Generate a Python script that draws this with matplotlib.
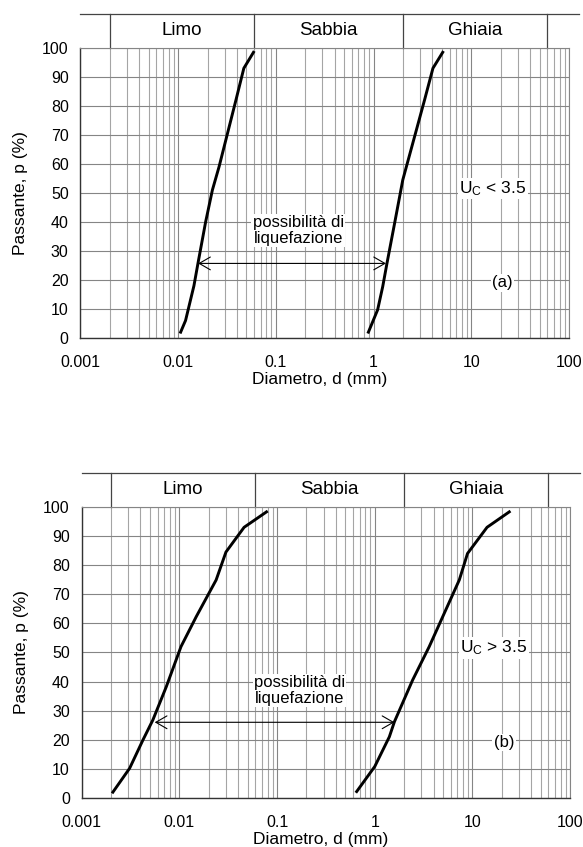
import numpy as np
import matplotlib
matplotlib.use("Agg")
from matplotlib import pyplot as plt
from matplotlib import transforms
from matplotlib.ticker import LogLocator, NullFormatter

plt.rcParams['font.family'] = ['Liberation Sans', 'DejaVu Sans']
plt.rcParams['mathtext.fontset'] = 'custom'
plt.rcParams['mathtext.rm'] = 'Liberation Sans'
plt.rcParams['mathtext.it'] = 'Liberation Sans:italic'
plt.rcParams['mathtext.default'] = 'regular'

# dati
x_ticks = [0.001, 0.01, 0.1, 1, 10, 100]
x_ticklabels = ['0.001', '0.01', '0.1', '1', '10', '100']
y_ticks = [0, 10, 20, 30, 40, 50, 60, 70, 80, 90, 100]

zone_names = ['Limo', 'Sabbia', 'Ghiaia']
zone_limits = [0.002, 0.06, 2, 60]

# (a) Uc < 3.5
d_a_fine = [0.0106, 0.0119, 0.0145, 0.016, 0.0191, 0.0224, 0.0262, 0.039, 0.047, 0.059]
p_a_fine = [2, 6, 18, 26, 40, 51, 59, 82, 93, 98.5]
d_a_grosso = [0.885, 1.10, 1.24, 1.37, 1.64, 1.99, 3.32, 4.05, 5.1]
p_a_grosso = [2, 9.7, 17.7, 25.7, 39.5, 54.5, 82, 93, 98.5]
freccia_a = [0.016, 1.34, 25.7]

# (b) Uc > 3.5
d_b_fine = [0.00209, 0.0031, 0.00424, 0.00536, 0.00735, 0.0104, 0.0149, 0.0238, 0.030, 0.046, 0.078]
p_b_fine = [2, 10.2, 19.9, 26.8, 38.2, 52, 62.3, 74.9, 84.5, 93, 98.3]
d_b_grosso = [0.653, 1.0, 1.41, 1.59, 2.44, 3.61, 7.33, 8.9, 14.1, 23.8]
p_b_grosso = [2.2, 10.8, 21, 26.2, 40.5, 52, 74.9, 84, 93, 98.3]
freccia_b = [0.0056, 1.59, 26]

uc_testi = ['U$_{C}$ < 3.5', 'U$_{C}$ > 3.5']
lettere = ['(a)', '(b)']

fig = plt.figure(figsize=(5.83, 8.47), dpi=100)
ax1 = fig.add_axes([0.138, 0.601, 0.838, 0.3424])
ax2 = fig.add_axes([0.140, 0.0579, 0.838, 0.3436])

pannelli = [
    (ax1, d_a_fine, p_a_fine, d_a_grosso, p_a_grosso, freccia_a, uc_testi[0], lettere[0]),
    (ax2, d_b_fine, p_b_fine, d_b_grosso, p_b_grosso, freccia_b, uc_testi[1], lettere[1]),
]

h = 34 / 290.0

for ax, d1, p1, d2, p2, fr, uc, lett in pannelli:
    ax.set_xscale('log')
    ax.set_xlim(0.001, 100)
    ax.set_ylim(0, 100)
    ax.set_xticks(x_ticks)
    ax.set_xticklabels(x_ticklabels)
    ax.xaxis.set_minor_locator(LogLocator(base=10, subs=np.arange(2, 10), numticks=20))
    ax.xaxis.set_minor_formatter(NullFormatter())
    ax.set_yticks(y_ticks)
    ax.grid(True, which='major', axis='both', color='#858585', lw=0.8, zorder=0)
    ax.grid(True, which='minor', axis='x', color='#a5a5a5', lw=0.8, zorder=0)
    ax.set_axisbelow(True)
    ax.tick_params(axis='both', which='both', length=0, labelsize=11.5)
    ax.tick_params(axis='x', pad=12)
    ax.tick_params(axis='y', pad=8.5)
    for s in ['top', 'right']:
        ax.spines[s].set_color('#858585')
        ax.spines[s].set_linewidth(0.8)
    for s in ['left', 'bottom']:
        ax.spines[s].set_color('#333333')
        ax.spines[s].set_linewidth(1.0)

    ax.set_xlabel('Diametro, d (mm)', fontsize=12.5)
    ax.xaxis.set_label_coords(0.49, -0.117)
    ax.set_ylabel('Passante, p (%)', fontsize=12.5)
    ax.yaxis.set_label_coords(-0.107, 0.5)

    # intestazione con le classi granulometriche
    tr = transforms.blended_transform_factory(ax.transData, ax.transAxes)
    ax.plot([0.001, 126], [1 + h, 1 + h], transform=tr, clip_on=False, color='#444444', lw=0.9)
    for xl in zone_limits:
        ax.plot([xl, xl], [1, 1 + h], transform=tr, clip_on=False, color='#444444', lw=0.9)
    for i in range(len(zone_names)):
        xc = np.sqrt(zone_limits[i] * zone_limits[i + 1])
        ax.text(xc, 1 + h / 2, zone_names[i], transform=tr, ha='center', va='center', fontsize=13.5)

    ax.plot(d1, p1, color='black', lw=2.1, zorder=4)
    ax.plot(d2, p2, color='black', lw=2.1, zorder=4)

    ax.annotate('', xy=(fr[0], fr[2]), xytext=(fr[1], fr[2]),
                arrowprops=dict(arrowstyle='<->,head_length=0.4,head_width=0.23', color='black',
                                lw=0.8, shrinkA=0, shrinkB=0, mutation_scale=20), zorder=5)

    bb = dict(facecolor='white', edgecolor='none', pad=1)
    ax.text(0.17, 37, 'possibilità di\nliquefazione', ha='center', va='center', fontsize=12,
            linespacing=1.05, bbox=bb, zorder=3)
    ax.text(7.5, 50, uc, ha='left', va='baseline', fontsize=12.5, bbox=bb, zorder=3)
    ax.text(21, 19, lett, ha='center', va='center', fontsize=12, bbox=bb, zorder=3)

fig.savefig('out.png', dpi=100)
